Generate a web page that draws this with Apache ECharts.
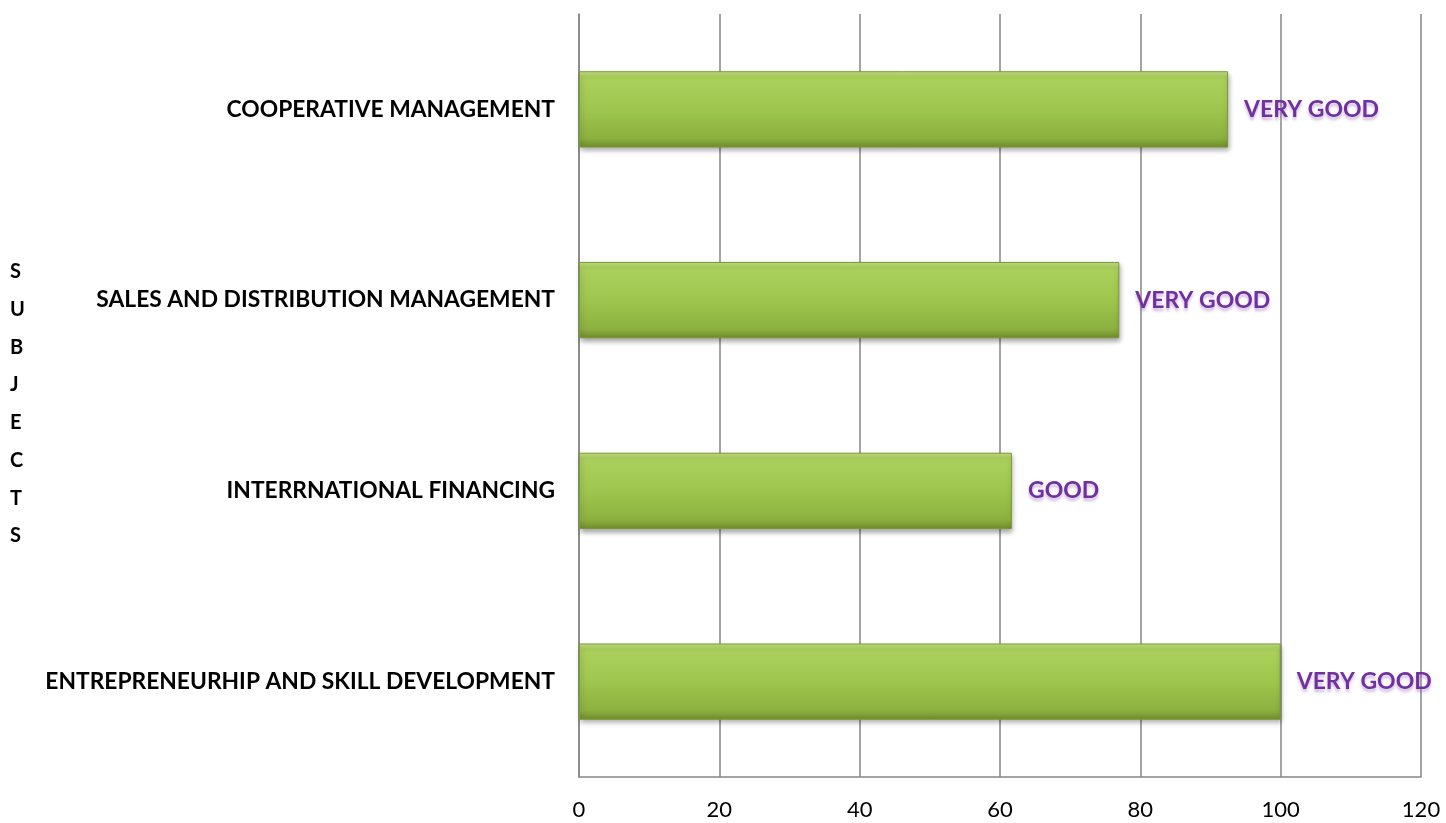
<!DOCTYPE html>
<html>
<head>
<meta charset="utf-8">
<script src="https://cdn.jsdelivr.net/npm/echarts@6/dist/echarts.min.js"></script>
<style>html,body{margin:0;padding:0;background:#fff;}#c{width:1446px;height:823px;}</style>
</head>
<body>
<div id="c"></div>
<script>
const categories = ['COOPERATIVE MANAGEMENT', 'SALES AND DISTRIBUTION MANAGEMENT', 'INTERRNATIONAL FINANCING', 'ENTREPRENEURHIP AND SKILL DEVELOPMENT'];
const values = [92.5, 77, 61.7, 100];
const ratings = ['VERY GOOD', 'VERY GOOD', 'GOOD', 'VERY GOOD'];
const xTicks = [0, 20, 40, 60, 80, 100, 120];
const axisTitle = 'SUBJECTS';

const chart = echarts.init(document.getElementById('c'), null, {renderer: 'canvas'});
const font = 'Lato, "Open Sans", sans-serif';
chart.setOption({
  animation: false,
  grid: {left: 579, right: 25, top: 14, bottom: 46, containLabel: false},
  xAxis: {
    type: 'value', min: xTicks[0], max: xTicks[xTicks.length - 1], interval: 20,
    axisLine: {show: true, lineStyle: {color: '#868686', width: 1.5}},
    axisTick: {show: false},
    splitLine: {show: true, lineStyle: {color: '#868686', width: 1.5}},
    axisLabel: {color: '#000', fontSize: 22, fontFamily: 'Lato, sans-serif', margin: 22}
  },
  yAxis: {
    type: 'category', data: categories, inverse: true,
    axisLine: {show: true, lineStyle: {color: '#868686', width: 1.5}},
    axisTick: {show: false},
    axisLabel: {color: '#000', fontSize: 22.8, fontWeight: 'bold', fontFamily: font, margin: 24}
  },
  graphic: [{
    type: 'text', left: 10, top: 253,
    style: {text: axisTitle.split('').join('\n'), fill: '#000', font: 'bold 20px Lato, sans-serif', lineHeight: 37.7, align: 'center', x: 8}
  }],
  series: [{
    type: 'bar', data: values, barWidth: '40%',
    itemStyle: {
      color: {type: 'linear', x: 0, y: 0, x2: 0, y2: 1, colorStops: [
        {offset: 0, color: '#c6e285'}, {offset: 0.08, color: '#abd15c'},
        {offset: 0.5, color: '#9ec64d'}, {offset: 0.88, color: '#8cb03f'}, {offset: 1, color: '#6e8c2b'}]},
      borderColor: '#7a9a36', borderWidth: 1,
      shadowColor: 'rgba(0,0,0,0.35)', shadowBlur: 5, shadowOffsetX: 1, shadowOffsetY: 3
    },
    label: {
      show: true, position: 'right', distance: 16,
      formatter: p => ratings[p.dataIndex],
      color: '#7030A0', fontSize: 23, fontWeight: 'bold', fontFamily: font,
      textShadowColor: 'rgba(112,48,160,0.35)', textShadowBlur: 3, textShadowOffsetY: 3
    }
  }]
});
</script>
</body>
</html>
